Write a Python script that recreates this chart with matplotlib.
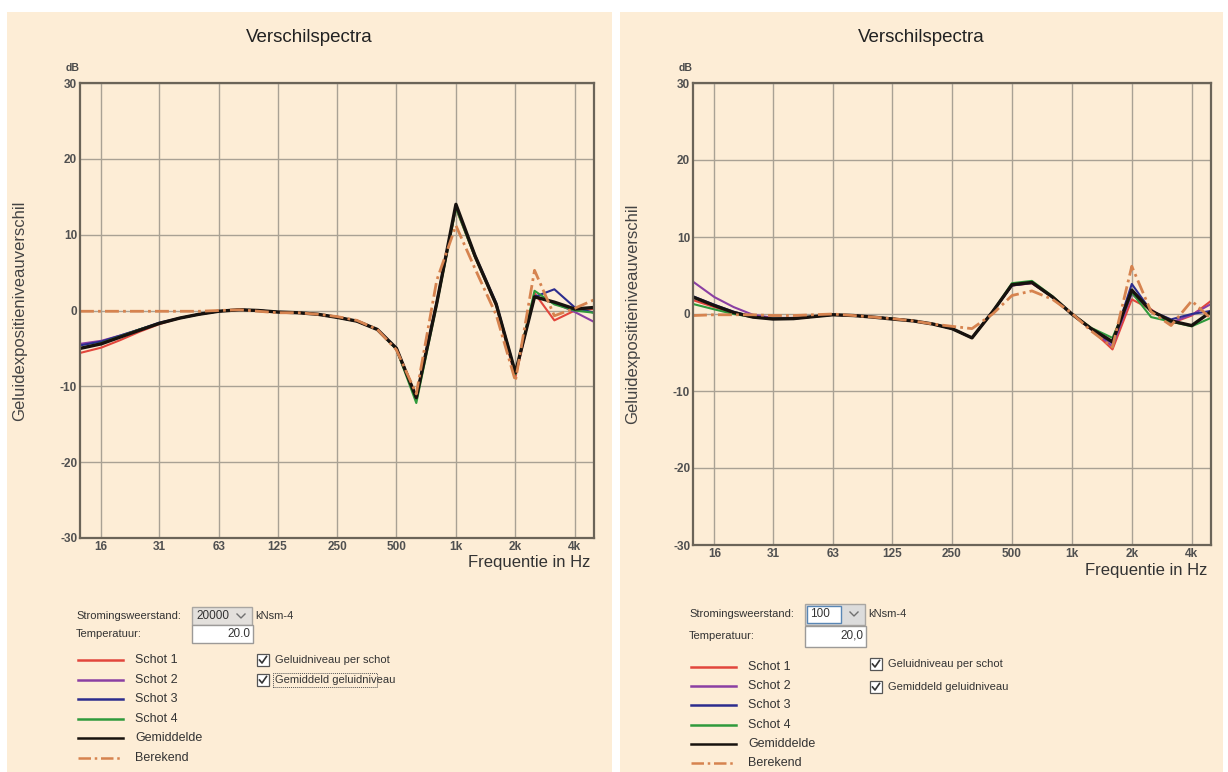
import matplotlib
matplotlib.use('Agg')
import matplotlib.pyplot as plt
from matplotlib.patches import Rectangle
from matplotlib.lines import Line2D
from matplotlib.ticker import NullLocator

plt.rcParams['font.family'] = ['Liberation Sans', 'DejaVu Sans']
plt.rcParams['axes.unicode_minus'] = False

W, H = 1228, 772

# ---------------- data ----------------
freqs = [12.5, 16, 20, 25, 31.5, 40, 50, 63, 80, 100, 125, 160, 200, 250,
         315, 400, 500, 630, 800, 1000, 1250, 1600, 2000, 2500, 3150, 4000, 5000]
tick_freqs = [16, 31.5, 63, 125, 250, 500, 1000, 2000, 4000]
tick_labels = ['16', '31', '63', '125', '250', '500', '1k', '2k', '4k']
yticks = [-30, -20, -10, 0, 10, 20, 30]

# left chart (Stromingsweerstand 20000)
L_schot1 = [-5.6, -4.9, -3.9, -2.8, -1.8, -1.0, -0.5, -0.1, 0.1, 0.0, -0.2, -0.3, -0.5, -0.9,
            -1.4, -2.5, -5.0, -11.3, 1.0, 13.5, 7.0, 0.6, -8.8, 2.3, -1.3, 0.0, 0.2]
L_schot2 = [-4.4, -4.0, -3.3, -2.5, -1.7, -1.0, -0.5, -0.1, 0.1, 0.0, -0.2, -0.3, -0.5, -0.9,
            -1.4, -2.5, -5.0, -11.6, 1.0, 13.7, 7.1, 0.8, -8.3, 2.0, 1.0, -0.2, -1.5]
L_schot3 = [-4.6, -4.1, -3.3, -2.5, -1.6, -1.0, -0.5, -0.1, 0.1, 0.0, -0.2, -0.3, -0.5, -0.9,
            -1.4, -2.5, -5.0, -11.4, 1.2, 13.8, 7.3, 1.0, -8.2, 1.8, 2.8, 0.4, -0.3]
L_schot4 = [-5.0, -4.3, -3.4, -2.5, -1.7, -1.0, -0.5, -0.1, 0.1, 0.0, -0.2, -0.3, -0.5, -0.9,
            -1.4, -2.5, -5.1, -12.2, 0.8, 13.5, 7.0, 0.7, -8.4, 2.6, 0.8, 0.0, -0.3]
L_gem = [-5.0, -4.4, -3.5, -2.6, -1.7, -1.0, -0.5, -0.1, 0.1, 0.0, -0.2, -0.3, -0.5, -0.9,
         -1.4, -2.5, -5.0, -11.5, 1.0, 14.0, 7.2, 0.8, -8.2, 1.8, 1.1, 0.2, 0.4]
L_berekend = [-0.1, -0.1, -0.1, -0.1, -0.1, -0.1, -0.1, 0.0, 0.1, -0.1, -0.3, -0.3, -0.5, -0.8,
              -1.3, -2.5, -5.2, -11.0, 4.0, 11.2, 5.5, -0.6, -9.3, 5.3, -0.7, 0.3, 1.4]

# right chart (Stromingsweerstand 100)
R_schot1 = [1.8, 0.9, 0.1, -0.4, -0.6, -0.6, -0.35, -0.1, -0.2, -0.4, -0.6, -0.9, -1.3, -1.9,
            -3.1, 0.3, 3.7, 4.0, 2.2, 0.0, -2.0, -4.6, 1.9, 0.6, -1.2, -0.2, 1.7]
R_schot2 = [4.2, 2.2, 0.9, -0.1, -0.5, -0.5, -0.35, -0.1, -0.2, -0.4, -0.6, -0.9, -1.3, -1.9,
            -3.1, 0.3, 3.7, 4.0, 2.2, 0.0, -1.9, -4.2, 2.6, 0.5, -1.1, -0.1, 1.3]
R_schot3 = [2.3, 1.2, 0.3, -0.4, -0.6, -0.6, -0.35, -0.1, -0.2, -0.4, -0.6, -0.9, -1.3, -1.9,
            -3.1, 0.3, 3.7, 4.1, 2.2, 0.0, -1.9, -3.8, 3.9, 0.4, -0.7, 0.0, 0.4]
R_schot4 = [1.3, 0.6, 0.0, -0.4, -0.6, -0.6, -0.35, -0.1, -0.2, -0.4, -0.6, -0.9, -1.3, -1.9,
            -3.1, 0.3, 4.0, 4.3, 2.3, 0.0, -1.8, -3.1, 2.8, -0.4, -1.0, -1.6, -0.5]
R_gem = [2.2, 1.1, 0.2, -0.4, -0.65, -0.6, -0.35, -0.1, -0.2, -0.4, -0.65, -0.9, -1.3, -1.9,
         -3.1, 0.3, 3.8, 4.1, 2.2, 0.0, -1.9, -3.6, 3.1, 0.4, -0.9, -1.5, 0.3]
R_berekend = [-0.2, -0.1, -0.1, -0.1, -0.2, -0.2, -0.1, 0.0, -0.2, -0.4, -0.6, -0.9, -1.3, -1.6,
              -1.9, 0.0, 2.4, 3.0, 1.9, 0.1, -2.2, -4.3, 6.2, 0.3, -1.5, 1.7, -0.6]

series_names = ['Schot 1', 'Schot 2', 'Schot 3', 'Schot 4', 'Gemiddelde', 'Berekend']

# ---------------- style ----------------
BG = '#FDEDD6'
GRID = '#A9A194'
FRAME = '#6B6458'
TXT = '#333333'
styles = [
    dict(color='#E2463C', lw=1.5, ls='-'),
    dict(color='#8B3FA3', lw=1.5, ls='-'),
    dict(color='#2C2C8E', lw=1.5, ls='-'),
    dict(color='#2F9A3C', lw=1.5, ls='-'),
    dict(color='#17120E', lw=2.4, ls='-'),
    dict(color='#D6834F', lw=2.0, ls=(0, (5, 1.5, 1, 1.5))),
]


def fx(x):
    return x / W


def fy(y):
    return 1 - y / H


fig = plt.figure(figsize=(W / 100, H / 100), dpi=100, facecolor='white')


def frect(x0, y0, x1, y1, fc, ec='none', lw=1.0, ls='-', z=0):
    fig.patches.append(Rectangle((fx(x0), fy(y1)), (x1 - x0) / W, (y1 - y0) / H,
                                 transform=fig.transFigure, facecolor=fc, edgecolor=ec,
                                 lw=lw, ls=ls, zorder=z))


def fline(xs, ys, **kw):
    fig.add_artist(Line2D([fx(x) for x in xs], [fy(y) for y in ys],
                          transform=fig.transFigure, **kw))


def panel(px0, px1, ax_box, data, combo, combo_kind, temp_text, rows, focus):
    # background
    frect(px0, 12, px1, 772, BG, z=-10)
    cx = (px0 + px1) / 2
    fig.text(fx(cx), fy(37), 'Verschilspectra', ha='center', va='center',
             fontsize=13.5, color='#222222')
    x0, y0, x1, y1 = ax_box
    ax = fig.add_axes([fx(x0), fy(y1), (x1 - x0) / W, (y1 - y0) / H])
    ax.set_zorder(5)
    ax.set_facecolor(BG)
    for vals, st in zip(data, styles):
        ax.plot(freqs, vals, solid_capstyle='round', **st)
    ax.set_xscale('log')
    ax.set_xlim(12.5, 5000)
    ax.set_ylim(-30, 30)
    ax.set_xticks(tick_freqs)
    ax.set_xticklabels(tick_labels)
    ax.xaxis.set_minor_locator(NullLocator())
    ax.set_yticks(yticks)
    ax.grid(True, color=GRID, lw=1.0)
    ax.set_axisbelow(True)
    ax.tick_params(length=0, labelsize=8.5, labelcolor='#505050', pad=2)
    for lab in ax.get_xticklabels() + ax.get_yticklabels():
        lab.set_fontweight('bold')
    for sp in ax.spines.values():
        sp.set_color(FRAME)
        sp.set_linewidth(1.6)
    fig.text(fx(x0 - 7), fy(y0 - 15), 'dB', ha='center', va='center',
             fontsize=7.5, color='#4A4A4A', fontweight='bold')
    fig.text(fx(x1 - 4), fy(y1 + 25), 'Frequentie in Hz', ha='right', va='center',
             fontsize=12, color=TXT)
    fig.text(fx(px0 + 13), fy((y0 + y1) / 2), 'Geluidexpositieniveauverschil',
             rotation=90, ha='center', va='center', fontsize=12, color='#444444')

    # ---- controls ----
    tx = px0 + 69
    ys, yt = rows['strom'], rows['temp']
    bx0, bx1 = px0 + 185, px0 + 245
    bh = rows['bh']
    fig.text(fx(tx), fy(ys), 'Stromingsweerstand:', ha='left', va='center',
             fontsize=8, color=TXT)
    fig.text(fx(tx), fy(yt), 'Temperatuur:', ha='left', va='center',
             fontsize=8, color=TXT)
    # combo box
    if combo_kind == 'gray':
        frect(bx0, ys - bh / 2, bx1, ys + bh / 2, '#E3E0DC', ec='#A9A6A2', lw=1.0, z=2)
        fig.text(fx(bx0 + 4), fy(ys), combo, ha='left', va='center', fontsize=8.5,
                 color=TXT, zorder=3)
    else:
        frect(bx0, ys - bh / 2, bx1, ys + bh / 2, '#DCDCDC', ec='#A9A6A2', lw=1.0, z=2)
        frect(bx0 + 2, ys - bh / 2 + 2, bx0 + 36, ys + bh / 2 - 2, 'white',
              ec='#5A87B5', lw=1.0, z=3)
        fig.text(fx(bx0 + 5), fy(ys), combo, ha='left', va='center', fontsize=8.5,
                 color=TXT, zorder=4)
    chx = bx1 - 11
    fline([chx - 4, chx, chx + 4], [ys - 2, ys + 2, ys - 2], color='#707070', lw=1.0,
          zorder=4)
    fig.text(fx(bx1 + 3), fy(ys), 'kNsm-4', ha='left', va='center', fontsize=8,
             color=TXT)
    # temperature box
    frect(bx0, yt - bh / 2, bx1 + 1, yt + bh / 2, 'white', ec='#9C9A98', lw=1.0, z=2)
    fig.text(fx(bx1 - 2), fy(yt), temp_text, ha='right', va='center', fontsize=8.5,
             color=TXT, zorder=3)
    # legend
    for k, (name, st) in enumerate(zip(series_names, styles)):
        yy = rows['leg0'] + rows['legstep'] * k
        fline([px0 + 71, px0 + 116], [yy, yy], color=st['color'], lw=1.8,
              ls=st['ls'])
        fig.text(fx(px0 + 128), fy(yy), name, ha='left', va='center', fontsize=9,
                 color=TXT)
    # checkboxes
    for k, label in enumerate(['Geluidniveau per schot', 'Gemiddeld geluidniveau']):
        yy = rows['chk0'] + rows['chkstep'] * k
        cbx = px0 + 250
        frect(cbx, yy - 6, cbx + 12, yy + 6, 'white', ec='#555555', lw=0.9, z=2)
        fline([cbx + 2.5, cbx + 5, cbx + 9.5], [yy, yy + 3, yy - 3.5], color='#333333',
              lw=1.2, zorder=3)
        fig.text(fx(cbx + 18), fy(yy), label, ha='left', va='center', fontsize=8,
                 color=TXT)
        if focus and k == 1:
            frect(cbx + 16, yy - 7, cbx + 120, yy + 7, 'none', ec='#555555', lw=0.7,
                  ls=(0, (1, 1)), z=3)


left_data = [L_schot1, L_schot2, L_schot3, L_schot4, L_gem, L_berekend]
right_data = [R_schot1, R_schot2, R_schot3, R_schot4, R_gem, R_berekend]

panel(7, 612, (80, 83, 594, 538), left_data, '20000', 'gray', '20.0',
      dict(strom=616, temp=634, bh=18, leg0=660, legstep=19.6, chk0=660, chkstep=20),
      focus=True)
panel(620, 1223, (693, 83, 1211, 545), right_data, '100', 'white', '20,0',
      dict(strom=614, temp=636, bh=21, leg0=667, legstep=19.2, chk0=664, chkstep=23),
      focus=False)

fig.savefig('out.png', dpi=100, facecolor='white')
